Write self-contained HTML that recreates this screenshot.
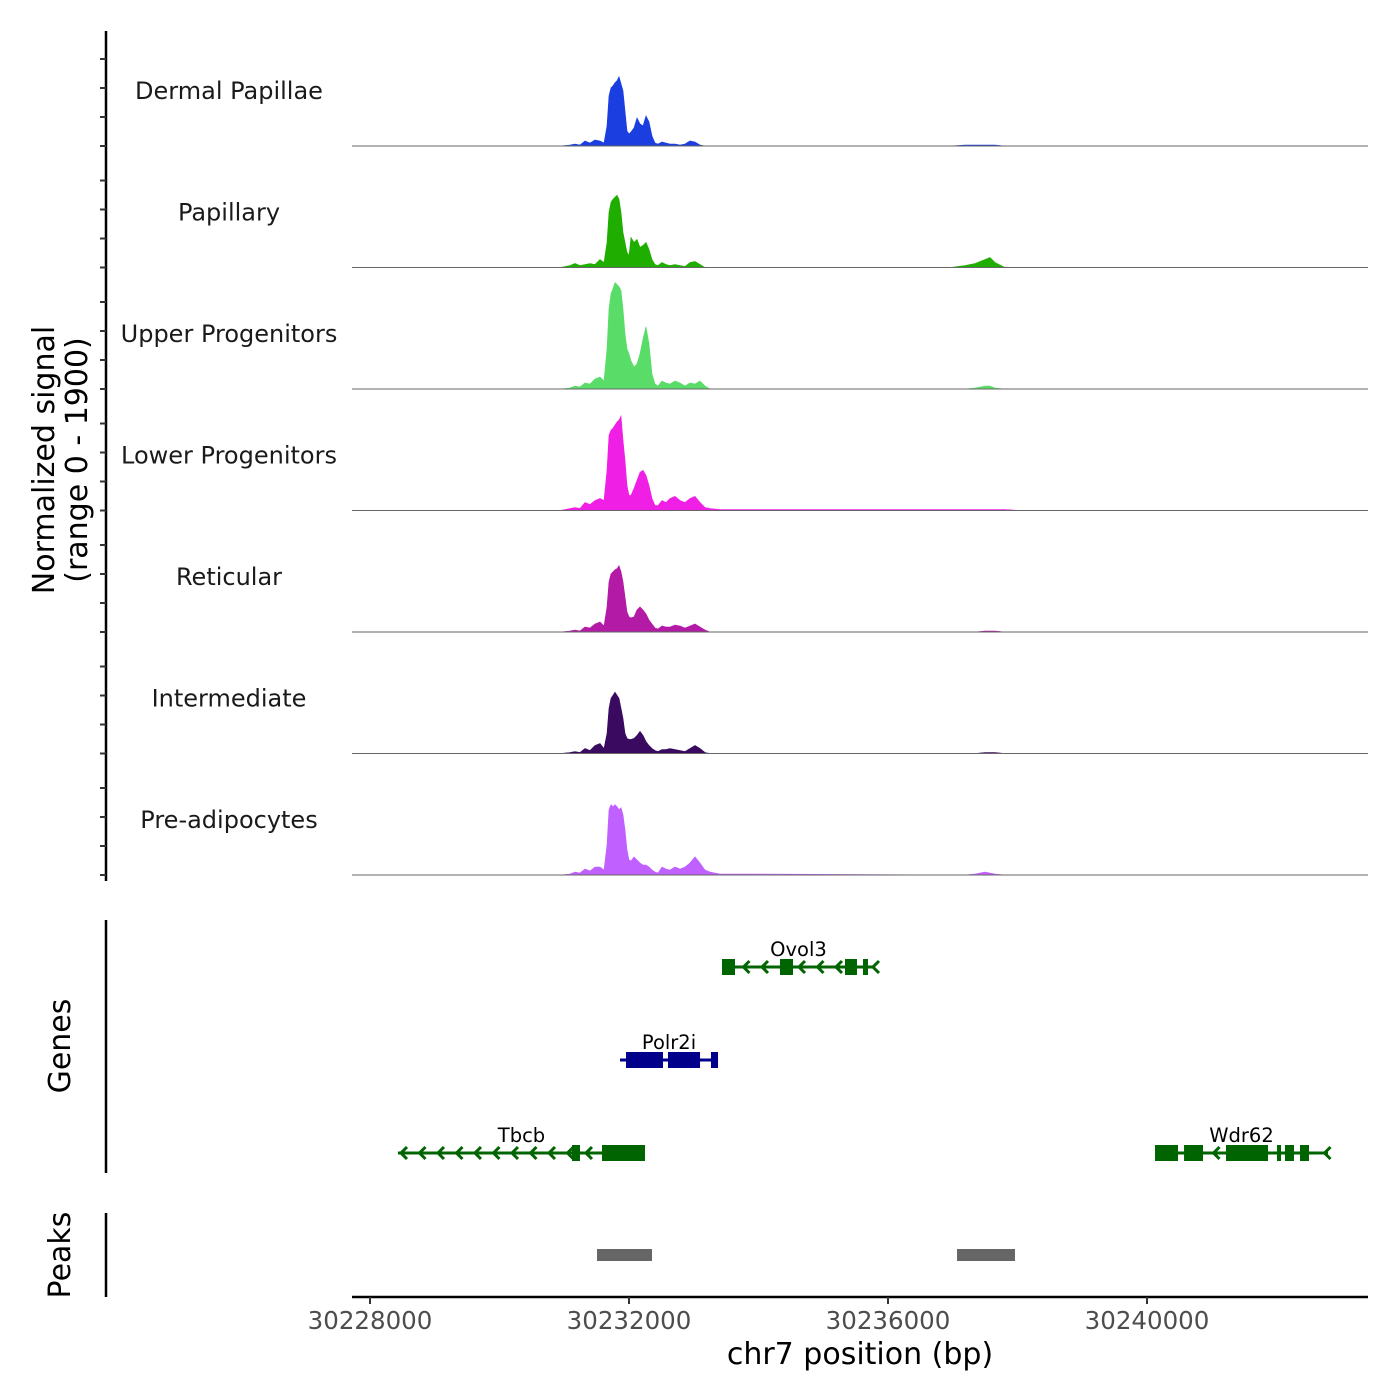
<!DOCTYPE html>
<html><head><meta charset="utf-8"><style>
html,body{margin:0;padding:0;background:#fff;}
svg{display:block;font-family:"DejaVu Sans","Liberation Sans",sans-serif;}
</style></head><body>
<svg id="chart" width="1400" height="1400" viewBox="0 0 1400 1400" xmlns="http://www.w3.org/2000/svg"></svg>
<script>
const positions=[30230934,30231089,30231166,30231243,30231320,30231398,30231475,30231552,30231614,30231660,30231691,30231722,30231753,30231784,30231815,30231846,30231876,30231907,30231938,30231969,30232000,30232031,30232077,30232124,30232170,30232216,30232263,30232309,30232355,30232402,30232448,30232510,30232571,30232633,30232710,30232788,30232865,30232942,30233019,30233097,30233174,30233251,30233405,30233714,30236958,30237189,30237344,30237498,30237575,30237652,30237807,30238039];
const trackNames=["Dermal Papillae","Papillary","Upper Progenitors","Lower Progenitors","Reticular","Intermediate","Pre-adipocytes"];
const trackColors=["#1a3ee0","#1fae00","#5adc68","#f01fe6","#b31aa6","#3a0a60","#c060ff"];
const dermalVals=[0,1,2,1,5,3,6,5,3,20,50,58,60,63,65,69,62,55,35,15,12,14,18,28,22,20,30,24,10,3,2,4,3,2,2,1,2,5,4,1,0,0,0,0,0,1,1,1,1,1,0,0];
const papillaryVals=[0,2,4,2,3,4,3,8,5,25,55,65,68,70,72,68,55,35,25,15,12,30,25,28,20,22,25,18,8,3,2,5,3,2,3,2,1,5,6,3,0,0,0,0,0,2,4,8,10,5,0,0];
const upperVals=[0,1,3,2,6,5,10,12,8,40,80,95,100,106,104,102,98,80,55,40,35,28,22,25,35,50,62,45,15,5,3,8,6,5,8,6,3,6,5,8,3,0,0,0,0,0,1,3,3,1,0,0];
const lowerVals=[0,2,3,2,8,6,10,12,10,40,75,80,82,85,88,90,94,70,50,25,15,15,22,30,38,40,35,25,12,5,5,10,8,12,14,10,8,12,14,8,3,2,1,1,1,1,1,1,1,1,1,0];
const reticularVals=[0,1,2,1,5,4,8,10,6,25,50,58,60,62,63,66,60,50,35,20,15,14,15,22,25,22,18,12,8,4,3,6,5,5,7,6,4,6,8,5,2,0,0,0,0,0,0,1,1,1,0,0];
const intermediateVals=[0,1,2,1,5,3,8,10,5,20,45,55,58,61,58,55,45,35,20,15,14,14,15,18,22,18,12,8,5,3,2,4,4,5,4,3,2,5,8,5,1,0,0,0,0,0,0,1,1,1,0,0];
const preadipVals=[0,1,3,2,6,4,8,8,5,30,65,70,68,70,68,65,67,60,45,25,15,14,18,15,12,10,10,8,5,3,2,8,6,5,8,6,8,12,18,12,5,3,1,1,0,0,1,3,2,1,0,0];
const trackValues=[dermalVals,papillaryVals,upperVals,lowerVals,reticularVals,intermediateVals,preadipVals];
const xTicks=[30228000,30232000,30236000,30240000];
const geneNames=["Ovol3","Polr2i","Tbcb","Wdr62"];
const geneStart=[30233436,30231861,30228432,30240124];
const geneEnd=[30235799,30233375,30232247,30242795];
const geneStrand=[-1,1,-1,-1];
const geneRow=[0,1,2,2];
const geneColor=["#006400","#00008b","#006400","#006400"];
const geneExons=[[[30233436,30233637],[30234332,30234533],[30235336,30235521],[30235614,30235691]],
 [[30231954,30232525],[30232602,30233097],[30233266,30233375]],
 [[30231120,30231243],[30231583,30232247]],
 [[30240124,30240479],[30240572,30240865],[30241220,30241869],[30242008,30242070],[30242131,30242270],[30242363,30242502]]];
const peakStart=[30231506,30237066];
const peakEnd=[30232355,30237961];

const svg=document.getElementById('chart');
const NS="http://www.w3.org/2000/svg";
const X0=370, BP0=30228000, PXBP=259/4000;
function xs(bp){return X0+(bp-BP0)*PXBP;}
const yMax=121, trackH=121.5, firstBase=146;
function ys(t,v){return firstBase+t*trackH - v/yMax*trackH;}
function mk(tag,attrs,parent){const e=document.createElementNS(NS,tag);for(const k in attrs)e.setAttribute(k,attrs[k]);(parent||svg).appendChild(e);return e;}
const L=352,R=1368;

let e=mk('line',{x1:106,y1:31,x2:106,y2:881,stroke:'#000','stroke-width':2.5});


for(let t=0;t<7;t++){
  for(let k=0;k<4;k++){
    const y=firstBase+t*trackH-k*29;
    e=mk('line',{x1:100,y1:y,x2:106,y2:y,stroke:'#333','stroke-width':2});
    
    
  }
}
e=mk('text',{x:0,y:0,'font-size':30,'text-anchor':'middle',fill:'#000',transform:'translate(54,460) rotate(-90)'});
e.textContent='Normalized signal';


e=mk('text',{x:0,y:0,'font-size':30,'text-anchor':'middle',fill:'#000',transform:'translate(87,460) rotate(-90)'});
e.textContent='(range 0 - 1900)';



for(let t=0;t<7;t++){
  const g=mk('g',{});
  
  
  const vals=trackValues[t];
  const base=ys(t,0);
  let d='M'+xs(positions[0])+','+base;
  for(let i=0;i<positions.length;i++) d+=' L'+xs(positions[i]).toFixed(1)+','+ys(t,vals[i]).toFixed(1);
  d+=' L'+xs(positions[positions.length-1])+','+base+' Z';
  const p=mk('path',{d:d,fill:trackColors[t],stroke:trackColors[t],'stroke-width':0.6},g);
  
  
  const bl=mk('line',{x1:L,y1:base,x2:R,y2:base,stroke:'#666','stroke-width':1},g);
  
  
  const lb=mk('text',{x:229,y:base-47,'font-size':24,'text-anchor':'middle',fill:'#1a1a1a'},g);
  lb.textContent=trackNames[t];
  
  
}

e=mk('line',{x1:106,y1:920,x2:106,y2:1173,stroke:'#000','stroke-width':2.5});


e=mk('text',{x:0,y:0,'font-size':30,'text-anchor':'middle',fill:'#000',transform:'translate(70,1046) rotate(-90)'});
e.textContent='Genes';


const rowY=[967,1060,1153];
for(let g=0;g<geneNames.length;g++){
  const grp=mk('g',{});
  
  
  const y=rowY[geneRow[g]], c=geneColor[g];
  const x1=xs(geneStart[g]), x2=xs(geneEnd[g]);
  mk('line',{x1:x1,y1:y,x2:x2,y2:y,stroke:c,'stroke-width':3},grp);
  const step=18.5;
  for(let x=x1+3;x<=x2-2;x+=step){
    let inEx=false;
    for(const ex of geneExons[g]){if(x>xs(ex[0])-4&&x<xs(ex[1])+4)inEx=true;}
    if(inEx)continue;
    const dx=-geneStrand[g]*6;
    const ch=mk('polyline',{points:(x+dx)+','+(y-6)+' '+x+','+y+' '+(x+dx)+','+(y+6),fill:'none',stroke:c,'stroke-width':3},grp);
    
    
  }
  for(const ex of geneExons[g]){
    const r=mk('rect',{x:xs(ex[0]),y:y-8,width:Math.max(3,xs(ex[1])-xs(ex[0])),height:16,fill:c},grp);
    
    
  }
  const t=mk('text',{x:(x1+x2)/2,y:y-11,'font-size':19.5,'text-anchor':'middle',fill:'#000'},grp);
  t.textContent=geneNames[g];
  
  
}

e=mk('line',{x1:106,y1:1213,x2:106,y2:1297,stroke:'#000','stroke-width':2.5});


e=mk('text',{x:0,y:0,'font-size':30,'text-anchor':'middle',fill:'#000',transform:'translate(70,1255) rotate(-90)'});
e.textContent='Peaks';


for(let i=0;i<peakStart.length;i++){
  e=mk('rect',{x:xs(peakStart[i]),y:1249,width:xs(peakEnd[i])-xs(peakStart[i]),height:12,fill:'#666'});
  
  
}

e=mk('line',{x1:L,y1:1297,x2:R,y2:1297,stroke:'#000','stroke-width':2.5});


for(const v of xTicks){
  const x=xs(v);
  e=mk('line',{x1:x,y1:1297,x2:x,y2:1304,stroke:'#333','stroke-width':2});
  
  
  e=mk('text',{x:x,y:1329,'font-size':24.5,'text-anchor':'middle',fill:'#4d4d4d'});
  e.textContent=String(v);
  
  
}
e=mk('text',{x:860,y:1364,'font-size':30,'text-anchor':'middle',fill:'#000'});
e.textContent='chr7 position (bp)';


</script>
</body></html>
